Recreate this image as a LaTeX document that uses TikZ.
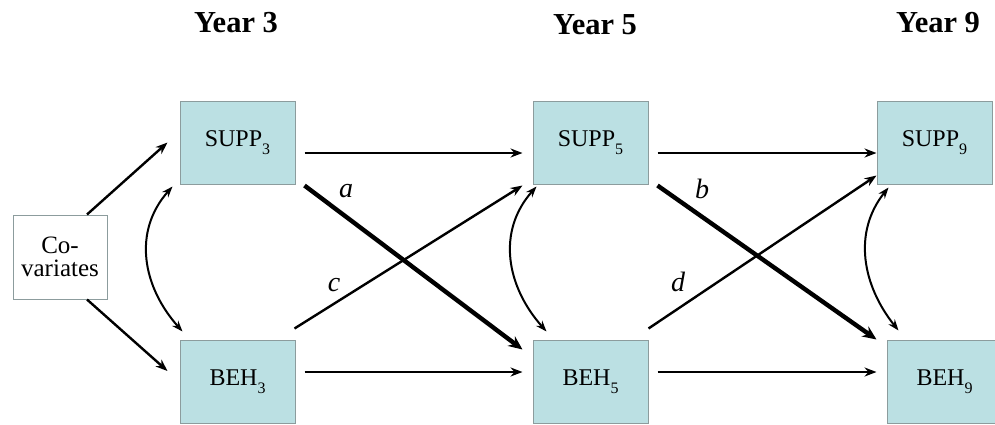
\documentclass[tikz,border=0pt]{standalone}
\usepackage{fontspec}
\setmainfont{Liberation Serif}
\usetikzlibrary{arrows.meta}
\definecolor{boxfill}{HTML}{BBE0E3}
\definecolor{boxline}{HTML}{8C9C9D}
\newcommand{\subidx}[1]{\raisebox{-0.32em}{\fontsize{16}{16}\selectfont #1}}
\begin{document}
\begin{tikzpicture}[x=1pt,y=-1pt,
  var/.style={draw=boxline,fill=boxfill,line width=1pt,minimum width=115pt,minimum height=83pt,inner sep=0pt,font=\fontsize{24}{26}\selectfont},
  cov/.style={draw=boxline,fill=white,line width=1pt,minimum width=94pt,minimum height=84pt,inner sep=0pt,align=center,font=\fontsize{25}{23}\selectfont},
  yr/.style={font=\bfseries\fontsize{30.5}{31}\selectfont},
  conn/.style={line width=2.4pt,-{Stealth[length=12pt,width=9pt]}},
  bigconn/.style={line width=4.4pt,-{Stealth[length=14pt,width=12pt]}},
  corr/.style={line width=2pt,{Stealth[length=11pt,width=8pt]}-{Stealth[length=11pt,width=8pt]}},
  lab/.style={font=\itshape\fontsize{28}{28}\selectfont,inner sep=0pt}
]
\fill[white] (0,0) rectangle (995,424);
\useasboundingbox (0,0) rectangle (995,424);

% headings
\node[yr] (y3) at (236,23) {Year 3};
\node[yr] (y5) at (595,25) {Year 5};
\node[yr] (y9) at (938,23) {Year 9};

% boxes
\node[var] (s3) at (237.5,142.5) {SUPP\subidx{3}};
\node[var] (b3) at (237.5,381.5) {BEH\subidx{3}};
\node[var] (s5) at (590.5,142.5) {SUPP\subidx{5}};
\node[var] (b5) at (590.5,381.5) {BEH\subidx{5}};
\node[var] (s9) at (934.5,142.5) {SUPP\subidx{9}};
\node[var] (b9) at (944.5,381.5) {BEH\subidx{9}};
\node[cov] (cv) at (60,257) {Co-\\variates};

% covariate arrows
\draw[conn] ([xshift=27pt]cv.north) -- ([xshift=-12pt]s3.west);
\draw[conn] ([xshift=27pt]cv.south) -- ([xshift=-12pt,yshift=10.5pt]b3.west);

% horizontal stability arrows
\draw[conn] ([xshift=9pt,yshift=-10.5pt]s3.east) -- ([xshift=-10pt,yshift=-10.5pt]s5.west);
\draw[conn] ([xshift=9pt,yshift=9.5pt]b3.east) -- ([xshift=-10pt,yshift=9.5pt]b5.west);
\draw[conn] ([xshift=9pt,yshift=-10.5pt]s5.east) -- ([xshift=-0pt,yshift=-10.5pt]s9.west);
\draw[conn] ([xshift=9pt,yshift=9.5pt]b5.east) -- ([xshift=-10pt,yshift=9.5pt]b9.west);

% cross-lagged paths
\draw[bigconn] ([xshift=9pt,yshift=-1pt]s3.south east) -- ([xshift=-10pt,yshift=-10pt]b5.north west);
\draw[conn] ([xshift=-1pt,yshift=11pt]b3.north east) -- ([xshift=-10pt,yshift=-1pt]s5.south west);
\draw[bigconn] ([xshift=9pt,yshift=-1pt]s5.south east) -- ([xshift=-10pt]b9.north west);
\draw[conn] ([yshift=11pt]b5.north east) -- ([yshift=9pt]s9.south west);

% correlations
\draw[corr] ([xshift=-7pt,yshift=-2pt]s3.south west) .. controls +(-40,45) and +(-40,-45) .. ([xshift=3pt,yshift=8pt]b3.north west);
\draw[corr] ([xshift=4pt,yshift=-2pt]s5.south west) .. controls +(-40,45) and +(-40,-45) .. ([xshift=14pt,yshift=8pt]b5.north west);
\draw[corr] ([xshift=12pt,yshift=-3pt]s9.south west) .. controls +(-36,45) and +(-36,-45) .. ([xshift=12pt,yshift=9pt]b9.north west);

% labels
\node[lab] (la) at (346,191) {a};
\node[lab] (lc) at (334,285) {c};
\node[lab] (lb) at (702,189) {b};
\node[lab] (ld) at (678,282) {d};
\end{tikzpicture}
\end{document}
